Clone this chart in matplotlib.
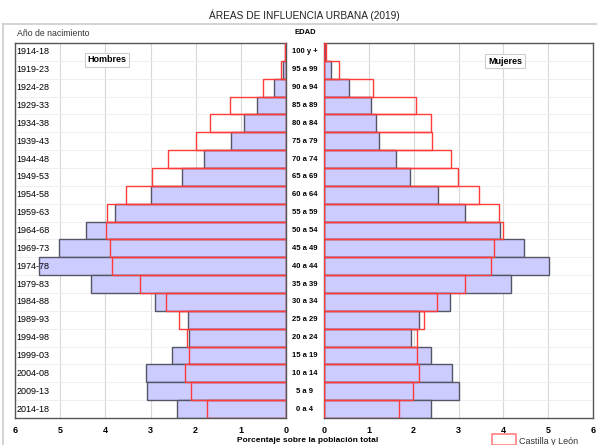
import matplotlib.pyplot as plt
import matplotlib.patches as patches

plt.rcParams['font.family'] = ['Liberation Sans', 'DejaVu Sans']

birth_years = ['1914-18', '1919-23', '1924-28', '1929-33', '1934-38', '1939-43', '1944-48',
               '1949-53', '1954-58', '1959-63', '1964-68', '1969-73', '1974-78', '1979-83',
               '1984-88', '1989-93', '1994-98', '1999-03', '2004-08', '2009-13', '2014-18']
age_groups = ['100 y +', '95 a 99', '90 a 94', '85 a 89', '80 a 84', '75 a 79', '70 a 74',
              '65 a 69', '60 a 64', '55 a 59', '50 a 54', '45 a 49', '40 a 44', '35 a 39',
              '30 a 34', '25 a 29', '20 a 24', '15 a 19', '10 a 14', '5 a 9', '0 a 4']

men_urban = [0.02, 0.07, 0.26, 0.65, 0.93, 1.22, 1.81, 2.31, 3.00, 3.78, 4.43, 5.02, 5.46, 4.31,
             2.90, 2.16, 2.14, 2.52, 3.11, 3.08, 2.42]
men_cyl = [0.03, 0.11, 0.50, 1.24, 1.68, 2.00, 2.62, 2.97, 3.54, 3.97, 3.99, 3.90, 3.85, 3.23,
           2.66, 2.36, 2.19, 2.15, 2.23, 2.10, 1.76]
women_urban = [0.02, 0.16, 0.55, 1.04, 1.16, 1.23, 1.60, 1.92, 2.54, 3.14, 3.93, 4.46, 5.01, 4.16,
               2.80, 2.13, 1.94, 2.38, 2.86, 3.00, 2.39]
women_cyl = [0.04, 0.34, 1.10, 2.06, 2.39, 2.42, 2.83, 2.99, 3.45, 3.90, 3.99, 3.80, 3.73, 3.15,
             2.53, 2.24, 2.08, 2.07, 2.13, 1.99, 1.67]

blue_fill = '#ccccff'
blue_edge = '#555566'
red_edge = '#ff3b3b'

W, H = 597, 445
fig = plt.figure(figsize=(W / 100, H / 100), dpi=100)

def fx(px):
    return px / W

def fy(py):
    return 1 - py / H

ax_l = fig.add_axes([fx(15), fy(418), fx(286 - 15), (418 - 43) / H])
ax_r = fig.add_axes([fx(324), fy(418), fx(593 - 324), (418 - 43) / H])

rows = list(range(len(age_groups)))

for ax, urban, cyl in [(ax_l, men_urban, men_cyl), (ax_r, women_urban, women_cyl)]:
    ax.barh(rows, urban, height=1.0, color=blue_fill, edgecolor=blue_edge, linewidth=1.0, zorder=2)
    ax.barh(rows, cyl, height=1.0, color='none', edgecolor=red_edge, linewidth=1.0, zorder=3)
    ax.set_ylim(len(rows) - 0.5, -0.5)
    ax.set_yticks([])
    ax.set_xticks(range(7))
    ax.set_xticklabels([str(i) for i in range(7)], fontsize=6.5, fontweight='bold')
    ax.tick_params(axis='x', length=0, pad=6)
    for i in range(1, 6):
        ax.axvline(i, color='#d8d8d8', linewidth=0.8, zorder=0)
    for r in rows[:-1]:
        ax.axhline(r + 0.5, color='#ececec', linewidth=0.6, zorder=0)
    for s in ax.spines.values():
        s.set_color('#555555')
        s.set_linewidth(1.0)

ax_l.set_xlim(6, 0)
ax_r.set_xlim(0, 6)

# Años de nacimiento dentro del panel izquierdo
for r, lab in zip(rows, birth_years):
    ax_l.text(5.96, r, lab, ha='left', va='center', fontsize=6.5, zorder=4)

# Grupos de edad en el centro
for r, lab in zip(rows, age_groups):
    y = 43 + (r + 0.5) * (375 / 21)
    fig.text(fx(305), fy(y), lab, ha='center', va='center', fontsize=5.5, fontweight='bold')

fig.text(fx(305), fy(33), 'EDAD', ha='center', va='center', fontsize=5.5, fontweight='bold')
fig.text(fx(17), fy(34), 'Año de nacimiento', ha='left', va='center', fontsize=6.3, color='#333333')
fig.text(fx(304), fy(15), 'ÁREAS DE INFLUENCIA URBANA (2019)', ha='center', va='center',
         fontsize=7.3, color='#222222')

box = dict(boxstyle='square,pad=0.3', facecolor='white', edgecolor='#cccccc', linewidth=0.8)
fig.text(fx(107), fy(60), 'Hombres', ha='center', va='center', fontsize=6.5, fontweight='bold', bbox=box)
fig.text(fx(505), fy(61), 'Mujeres', ha='center', va='center', fontsize=6.5, fontweight='bold', bbox=box)

fig.text(fx(308), fy(440), 'Porcentaje sobre la población total', ha='center', va='center',
         fontsize=6, fontweight='bold')

# Leyenda
fig.patches.append(patches.Rectangle((fx(492), fy(445)), fx(24), 11 / H, transform=fig.transFigure,
                                     facecolor='white', edgecolor='#ff8080', linewidth=1.2))
fig.text(fx(519), fy(441), 'Castilla y León', ha='left', va='center', fontsize=6.5, color='#333333')

# Marco exterior
fig.add_artist(plt.Line2D([fx(3), fx(597)], [fy(24), fy(24)], transform=fig.transFigure,
                          color='#cccccc', linewidth=1.2))
fig.add_artist(plt.Line2D([fx(3), fx(3)], [fy(24), fy(445)], transform=fig.transFigure,
                          color='#cccccc', linewidth=1.2))

fig.savefig('out.png', dpi=100)
